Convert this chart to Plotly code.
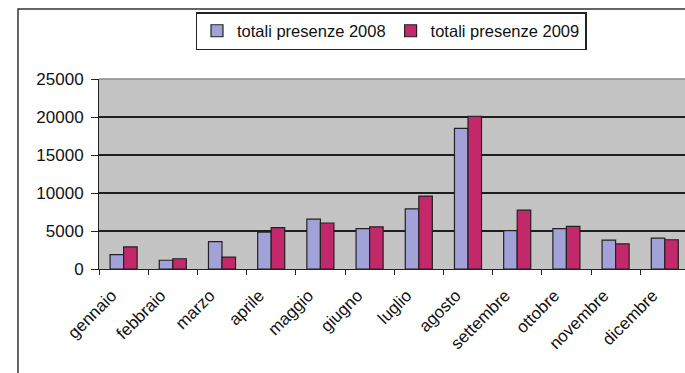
import plotly.graph_objects as go

# Monthly tourist presences, 2008 vs 2009
mesi = ["gennaio", "febbraio", "marzo", "aprile", "maggio", "giugno",
        "luglio", "agosto", "settembre", "ottobre", "novembre", "dicembre"]
presenze_2008 = [1900, 1150, 3600, 4850, 6550, 5300, 7900, 18500, 5050, 5300, 3800, 4050]
presenze_2009 = [2900, 1350, 1550, 5450, 6050, 5550, 9600, 20100, 7750, 5600, 3300, 3850]
y_ticks = [0, 5000, 10000, 15000, 20000, 25000]
y_tick_text = ["0", "5000", "10000", "15000", "20000", "25000"]

W, H = 685, 373
ML, MR, MT, MB = 99, 0, 79, 104
PW = W - ML - MR
PH = H - MT - MB
CAT_PX = 49.2  # width of one month slot in pixels


def px_x(x):
    return (x - ML) / PW


def px_y(y):
    return (H - MB - y) / PH


FONT = "Liberation Sans, Arial, sans-serif"

fig = go.Figure()
fig.add_trace(go.Bar(
    x=mesi, y=presenze_2008, name="totali presenze 2008",
    marker=dict(color="#a3a2d8", line=dict(color="#222222", width=1.2)),
))
fig.add_trace(go.Bar(
    x=mesi, y=presenze_2009, name="totali presenze 2009",
    marker=dict(color="#c2286a", line=dict(color="#222222", width=1.2)),
))

# outer frame of the chart box
fig.add_shape(type="rect", xref="paper", yref="paper",
              x0=px_x(18), x1=px_x(W + 20), y0=px_y(H + 20), y1=px_y(9),
              line=dict(color="#333333", width=1.5), fillcolor="rgba(0,0,0,0)",
              layer="below")
# softer top edge of the plotting area
fig.add_shape(type="line", xref="paper", yref="paper",
              x0=0, x1=1, y0=1, y1=1,
              line=dict(color="#8a8a8a", width=1.5), layer="above")

fig.update_layout(
    width=W, height=H,
    margin=dict(l=ML, r=MR, t=MT, b=MB, pad=0),
    paper_bgcolor="white",
    plot_bgcolor="#c4c4c4",
    barmode="group", bargap=0.45, bargroupgap=0,
    font=dict(family=FONT, size=16, color="#111111"),
    legend=dict(
        orientation="h", x=px_x(391), xanchor="center", y=px_y(12), yanchor="top",
        bgcolor="white", bordercolor="#222222", borderwidth=1.5,
        font=dict(size=16.5), itemwidth=30, tracegroupgap=0,
    ),
    xaxis=dict(
        range=[-0.5, -0.5 + PW / CAT_PX],
        tickangle=-45, showgrid=False,
        showline=True, linecolor="#222222", linewidth=1,
        ticks="outside", tickson="boundaries", ticklen=5, tickcolor="#222222",
        tickfont=dict(size=17), ticklabelshift=-12, ticklabelstandoff=9,
    ),
    yaxis=dict(
        range=[0, 25000], tickvals=y_ticks, ticktext=y_tick_text,
        showgrid=True, gridcolor="#1e1e1e", gridwidth=1.5,
        showline=True, linecolor="#222222", linewidth=1,
        ticks="outside", ticklen=7, tickcolor="#222222",
        zeroline=False, tickfont=dict(size=17), ticklabelstandoff=4,
    ),
)

fig.write_html("out.html")
